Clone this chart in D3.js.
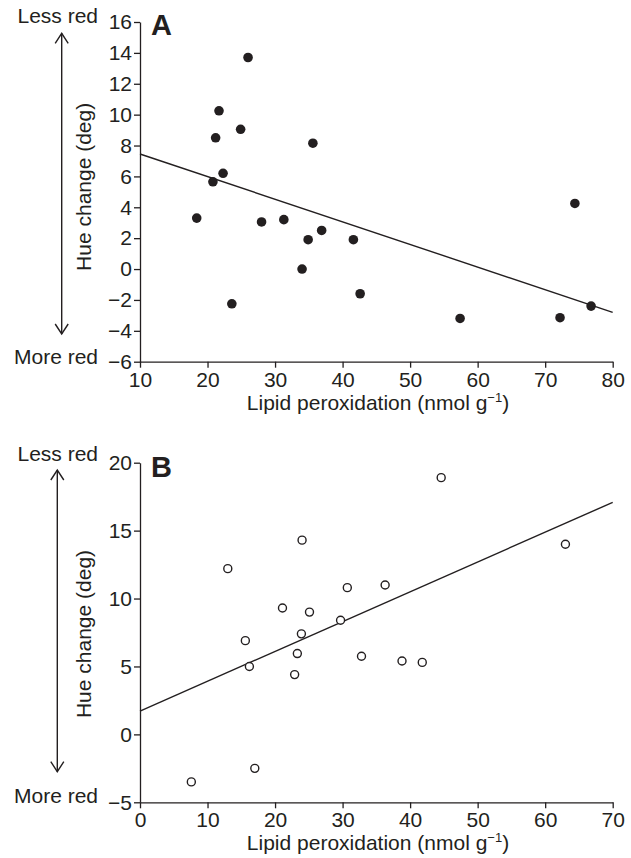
<!DOCTYPE html>
<html><head><meta charset="utf-8">
<script src="https://cdn.jsdelivr.net/npm/d3@7"></script>
<style>
html,body{margin:0;padding:0;background:#fff;}
text{font-family:"Liberation Sans",Arial,Helvetica,sans-serif;fill:#231f20;}
</style></head>
<body>
<svg id="chart" width="631" height="858"></svg>
<script>
// Panel A (filled dots)
const xA = [26.0, 21.7, 21.2, 24.9, 35.6, 22.3, 20.8, 18.4, 28.0, 31.3, 34.9, 34.0, 23.6, 36.9, 41.6, 42.6, 57.4, 72.2, 74.4, 76.8];
const yA = [13.7, 10.25, 8.5, 9.05, 8.15, 6.2, 5.65, 3.3, 3.05, 3.2, 1.9, 0.0, -2.25, 2.5, 1.9, -1.6, -3.2, -3.15, 4.25, -2.4];
const fitA = [[10, 7.45], [80, -2.8]];
const xTicksA = [10, 20, 30, 40, 50, 60, 70, 80];
const yTicksA = [-6, -4, -2, 0, 2, 4, 6, 8, 10, 12, 14, 16];

// Panel B (open circles)
const xB = [13.0, 24.0, 21.1, 25.1, 23.9, 15.6, 44.6, 63.0, 30.7, 36.3, 29.7, 23.3, 22.9, 16.2, 7.6, 17.0, 32.8, 38.8, 41.8];
const yB = [12.2, 14.3, 9.3, 9.0, 7.4, 6.9, 18.9, 14.0, 10.8, 11.0, 8.4, 5.95, 4.4, 5.0, -3.5, -2.5, 5.75, 5.4, 5.3];
const fitB = [[0, 1.72], [70, 17.08]];
const xTicksB = [0, 10, 20, 30, 40, 50, 60, 70];
const yTicksB = [-5, 0, 5, 10, 15, 20];

const panelLabels = ["A", "B"];
const yTitle = "Hue change (deg)";
const xTitle = "Lipid peroxidation (nmol g";
const upText = "Less red";
const downText = "More red";

const ink = "#231f20";
const fs = 21;
const svg = d3.select("#chart");

function panel(cfg) {
  const g = svg.append("g");
  const x = d3.scaleLinear().domain(cfg.xDomain).range([140, 612.7]);
  const y = d3.scaleLinear().domain(cfg.yDomain).range([cfg.bottom, cfg.top]);

  const xa = g.append("g").attr("transform", `translate(0,${cfg.bottom})`)
    .call(d3.axisBottom(x).tickValues(cfg.xTicks).tickSize(6).tickPadding(4).tickSizeOuter(0));
  const ya = g.append("g").attr("transform", `translate(140,0)`)
    .call(d3.axisLeft(y).tickValues(cfg.yTicks).tickSize(6).tickPadding(2).tickSizeOuter(0));
  [xa, ya].forEach(a => {
    a.selectAll("path,line").attr("stroke", ink).attr("stroke-width", 1.3);
    a.selectAll("text").attr("font-size", fs).attr("fill", ink)
      .style("font-family", '"Liberation Sans",Arial,sans-serif');
  });

  // regression line
  g.append("line")
    .attr("x1", x(cfg.fit[0][0])).attr("y1", y(cfg.fit[0][1]))
    .attr("x2", x(cfg.fit[1][0])).attr("y2", y(cfg.fit[1][1]))
    .attr("stroke", ink).attr("stroke-width", 1.4);

  // points
  const pts = cfg.xs.map((v, i) => [v, cfg.ys[i]]);
  g.selectAll("circle.pt").data(pts).join("circle").attr("class", "pt")
    .attr("cx", d => x(d[0])).attr("cy", d => y(d[1]))
    .attr("r", cfg.filled ? 4.8 : 4.0)
    .attr("fill", cfg.filled ? ink : "#fff")
    .attr("stroke", ink).attr("stroke-width", cfg.filled ? 0 : 1.4);

  // panel label
  g.append("text").attr("x", 151).attr("y", cfg.top + cfg.labelDy)
    .attr("font-size", 29).attr("font-weight", "bold").text(cfg.label);

  // y title
  const cy = (cfg.top + cfg.bottom) / 2 - cfg.titleShift;
  g.append("text").attr("transform", `translate(90.5,${cy}) rotate(-90)`)
    .attr("text-anchor", "middle").attr("font-size", fs).text(yTitle);

  // x title
  const xt = g.append("text").attr("x", 378).attr("y", cfg.bottom + 48)
    .attr("text-anchor", "middle").attr("font-size", fs);
  xt.append("tspan").text(xTitle);
  xt.append("tspan").attr("font-size", 13).attr("dy", -8).text("\u22121");
  xt.append("tspan").attr("dy", 8).text(")");

  // Less / More red
  g.append("text").attr("x", 98).attr("y", cfg.top + cfg.lessDy)
    .attr("text-anchor", "end").attr("font-size", fs).text(upText);
  g.append("text").attr("x", 98).attr("y", cfg.bottom + cfg.moreDy)
    .attr("text-anchor", "end").attr("font-size", fs).text(downText);

  // double arrow
  const ax = cfg.arrowX, t = cfg.arrowTop, b = cfg.arrowBot;
  g.append("line").attr("x1", ax).attr("x2", ax).attr("y1", t).attr("y2", b)
    .attr("stroke", ink).attr("stroke-width", 1.4);
  g.append("path").attr("d", `M${ax-6.5},${t+10}L${ax},${t}L${ax+6.5},${t+10}`)
    .attr("fill", "none").attr("stroke", ink).attr("stroke-width", 1.4);
  g.append("path").attr("d", `M${ax-6.5},${b-10}L${ax},${b}L${ax+6.5},${b-10}`)
    .attr("fill", "none").attr("stroke", ink).attr("stroke-width", 1.4);
}

panel({xDomain: [10, 80], yDomain: [-6, 16], top: 22, bottom: 361.7,
  xTicks: xTicksA, yTicks: yTicksA, xs: xA, ys: yA, fit: fitA, filled: true,
  label: panelLabels[0], labelDy: 12.5, titleShift: 5, lessDy: 0.5, moreDy: 2.5,
  arrowX: 61.7, arrowTop: 33.3, arrowBot: 334});

panel({xDomain: [0, 70], yDomain: [-5, 20], top: 462.7, bottom: 802.3,
  xTicks: xTicksB, yTicks: yTicksB, xs: xB, ys: yB, fit: fitB, filled: false,
  label: panelLabels[1], labelDy: 14, titleShift: -1.5, lessDy: -1.5, moreDy: 0.5,
  arrowX: 57.3, arrowTop: 470, arrowBot: 771.7});
</script>
</body></html>
